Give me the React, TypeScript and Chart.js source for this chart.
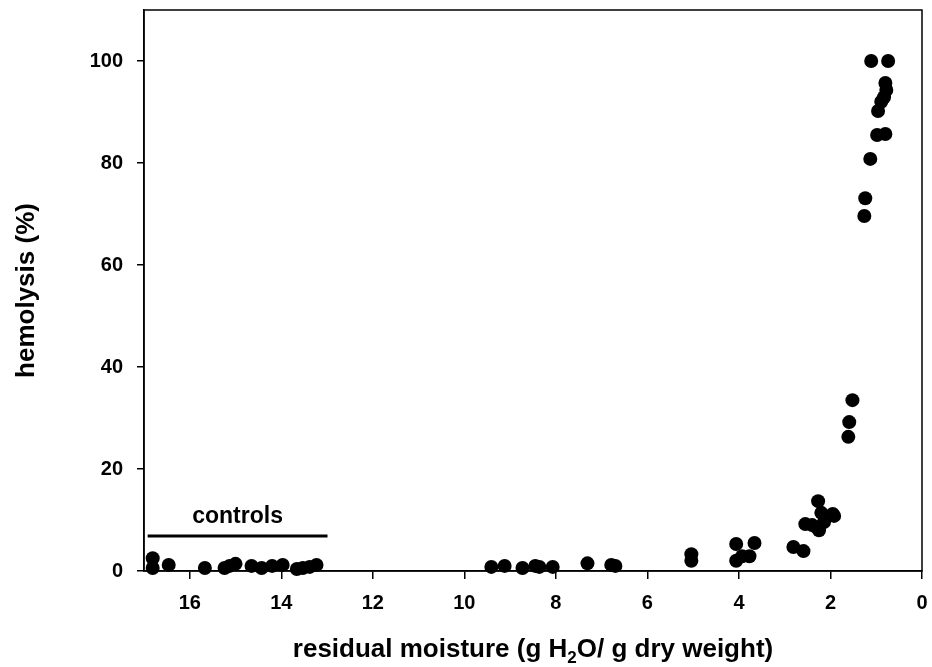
import React, { useEffect, useRef } from "react";
import { Chart, registerables } from "chart.js";

Chart.register(...registerables);

// residual moisture (g H2O / g dry weight)
const moisture = [
  16.81, 16.81, 16.46, 15.67, 15.24, 15.13, 15.0, 14.65, 14.43, 14.2, 13.97, 13.66, 13.53, 13.38, 13.23,
  9.41, 9.12, 8.73, 8.45, 8.36, 8.07, 7.31, 6.79, 6.7, 5.04, 5.04,
  4.06, 4.06, 3.93, 3.77, 3.66, 2.81, 2.59, 2.55, 2.4, 2.31, 2.27, 2.25, 2.2, 2.14, 1.95, 1.92,
  1.61, 1.59, 1.52,
  1.26, 1.24, 1.13, 0.98, 0.8, 0.96, 0.89, 0.83, 0.78, 0.8, 1.11, 0.74,
];
// hemolysis (%)
const hemolysis = [
  2.5, 0.6, 1.2, 0.6, 0.6, 1.0, 1.4, 1.0, 0.6, 1.0, 1.2, 0.4, 0.6, 0.8, 1.2,
  0.8, 1.0, 0.6, 1.0, 0.8, 0.8, 1.5, 1.2, 1.0, 3.3, 2.0,
  5.3, 2.0, 2.9, 2.9, 5.5, 4.7, 3.9, 9.2, 9.0, 8.6, 13.7, 8.0, 11.4, 9.6, 11.2, 10.8,
  26.3, 29.2, 33.5,
  69.6, 73.1, 80.8, 85.5, 85.7, 90.2, 92, 92.9, 94.3, 95.7, 100, 100,
];

const controlsBarX = [16.92, 12.99];
const controlsBarY = [6.86, 6.86];
const controlsLabel = "controls";
const controlsLabelY = 9.4;

const xTicks = [16, 14, 12, 10, 8, 6, 4, 2, 0];
const yTicks = [0, 20, 40, 60, 80, 100];

const FONT = "'Liberation Sans', Arial, sans-serif";

export default function App() {
  const ref = useRef<HTMLCanvasElement | null>(null);

  useEffect(() => {
    if (!ref.current) return;
    const overlay = {
      id: "overlay",
      afterDraw(chart: any) {
        const { ctx, chartArea, scales } = chart;
        ctx.save();
        // frame
        ctx.strokeStyle = "#000";
        ctx.lineWidth = 1.5;
        ctx.strokeRect(chartArea.left, chartArea.top, chartArea.right - chartArea.left, chartArea.bottom - chartArea.top);

        // controls label
        ctx.fillStyle = "#000";
        ctx.font = `bold 23px ${FONT}`;
        ctx.textAlign = "center";
        ctx.textBaseline = "alphabetic";
        const cx = (scales.x.getPixelForValue(controlsBarX[0]) + scales.x.getPixelForValue(controlsBarX[1])) / 2;
        ctx.fillText(controlsLabel, cx, scales.y.getPixelForValue(controlsLabelY));

        // x title with subscript
        const parts: [string, boolean][] = [
          ["residual moisture (g H", false],
          ["2", true],
          ["O/ g dry weight)", false],
        ];
        const mainFont = `bold 26px ${FONT}`;
        const subFont = `bold 17px ${FONT}`;
        let total = 0;
        for (const [t, sub] of parts) {
          ctx.font = sub ? subFont : mainFont;
          total += ctx.measureText(t).width;
        }
        let x = (chartArea.left + chartArea.right) / 2 - total / 2;
        const base = 657;
        ctx.textAlign = "left";
        for (const [t, sub] of parts) {
          ctx.font = sub ? subFont : mainFont;
          ctx.fillText(t, x, sub ? base + 6 : base);
          x += ctx.measureText(t).width;
        }
        ctx.restore();
      },
    };

    const chart = new Chart(ref.current, {
      type: "scatter",
      data: {
        datasets: [
          {
            type: "scatter",
            data: moisture.map((m, i) => ({ x: m, y: hemolysis[i] })),
            backgroundColor: "#000",
            borderColor: "#000",
            borderWidth: 0,
            pointRadius: 7,
            pointHoverRadius: 7,
            clip: false as any,
          },
          {
            type: "line",
            data: controlsBarX.map((v, i) => ({ x: v, y: controlsBarY[i] })),
            borderColor: "#000",
            borderWidth: 3,
            pointRadius: 0,
            showLine: true,
          } as any,
        ],
      },
      options: {
        animation: false,
        responsive: false,
        devicePixelRatio: 1,
        layout: { padding: { top: 10, right: 10, left: 0, bottom: 0 } },
        plugins: { legend: { display: false }, tooltip: { enabled: false } },
        scales: {
          x: {
            type: "linear",
            reverse: true,
            min: 0,
            max: 17,
            afterBuildTicks: (s: any) => {
              s.ticks = xTicks.map((v) => ({ value: v }));
            },
            afterFit: (s: any) => {
              s.height = 96;
              s.paddingLeft = 0;
              s.paddingRight = 0;
            },
            grid: { drawOnChartArea: false, drawTicks: true, tickLength: 8, color: "#000", lineWidth: 1.5 },
            border: { display: true, color: "#000", width: 1.5 },
            ticks: {
              color: "#000",
              font: { family: FONT, size: 20, weight: "bold" },
              padding: 12,
              maxRotation: 0,
              autoSkip: false,
            },
          },
          y: {
            type: "linear",
            min: 0,
            max: 110,
            afterBuildTicks: (s: any) => {
              s.ticks = yTicks.map((v) => ({ value: v }));
            },
            afterFit: (s: any) => {
              s.width = 144;
              s.paddingTop = 0;
              s.paddingBottom = 0;
            },
            grid: { drawOnChartArea: false, drawTicks: true, tickLength: 7, color: "#000", lineWidth: 1.5 },
            border: { display: true, color: "#000", width: 1.5 },
            ticks: {
              color: "#000",
              font: { family: FONT, size: 20, weight: "bold" },
              padding: 14,
              autoSkip: false,
            },
            title: {
              display: true,
              text: "hemolysis (%)",
              color: "#000",
              font: { family: FONT, size: 26, weight: "bold" },
              padding: { top: 11, bottom: 0 },
            },
          },
        },
      },
      plugins: [overlay],
    });
    return () => chart.destroy();
  }, []);

  return (
    <div style={{ position: "fixed", left: 0, top: 0, width: 932, height: 667, background: "#fff" }}>
      <canvas ref={ref} width={932} height={667} style={{ width: 932, height: 667 }} />
    </div>
  );
}
